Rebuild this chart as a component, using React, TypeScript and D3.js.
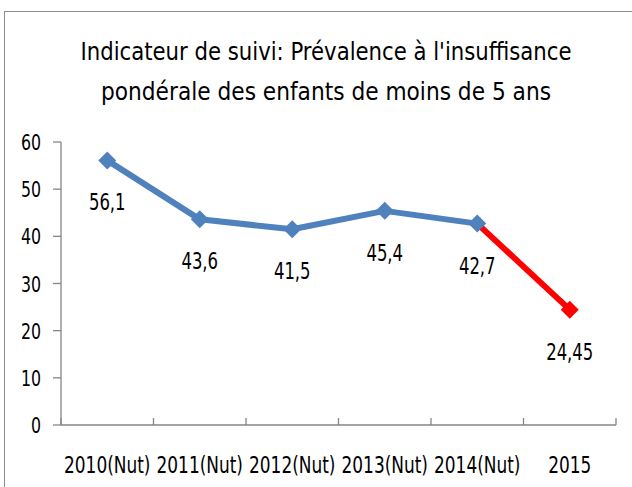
import React from "react";
import * as d3 from "d3";

const categories = ["2010(Nut)", "2011(Nut)", "2012(Nut)", "2013(Nut)", "2014(Nut)", "2015"];
const values = [56.1, 43.6, 41.5, 45.4, 42.7, 24.45];
const labels = ["56,1", "43,6", "41,5", "45,4", "42,7", "24,45"];
const yTicks = [0, 10, 20, 30, 40, 50, 60];
const titleLines = ["Indicateur de suivi: Prévalence à l'insuffisance", "pondérale des enfants de moins de 5 ans"];
const titleWidths = [491, 450];

const FONT = "'Liberation Sans Narrow', 'DejaVu Sans Condensed', 'Arial Narrow', sans-serif";

// approximate narrow-font advance widths (em)
const charW: Record<string, number> = { ",": 0.228, "(": 0.273, ")": 0.273, N: 0.592, u: 0.456, t: 0.228 };
const textW = (s: string, size: number) =>
  s.split("").reduce((a, ch) => a + (charW[ch] ?? 0.456), 0) * size;

export default function App() {
  const W = 632, H = 487;
  const x = d3.scaleBand<string>().domain(categories).range([61, 616]);
  const y = d3.scaleLinear().domain([0, 60]).range([425, 142]);
  const cx = (i: number) => (x(categories[i]) as number) + x.bandwidth() / 2;
  const line = d3.line<number>().x((_, i) => cx(i)).y((v) => y(v));
  const bluePts = values.slice(0, 5);
  const redIdx = [4, 5];
  const diamond = (px: number, py: number, r: number) =>
    `M${px},${py - r}L${px + r},${py}L${px},${py + r}L${px - r},${py}Z`;
  const axisColor = "#868686";
  const ticksX = d3.range(categories.length + 1).map((i) => 61 + i * x.bandwidth());

  return (
    <svg width={W} height={H} style={{ position: "absolute", left: 0, top: 0, background: "#fff" }}>
      <rect x={4.5} y={11.5} width={700} height={600} fill="#fff" stroke="#8c8c8c" strokeWidth={1} />
      {titleLines.map((t, i) => (
        <text
          key={i}
          x={326}
          y={60 + i * 40}
          textAnchor="middle"
          fontFamily={FONT}
          fontSize={25}
          fill="#000"
          textLength={titleWidths[i]}
          lengthAdjust="spacingAndGlyphs"
        >
          {t}
        </text>
      ))}
      {/* y axis */}
      <line x1={61} x2={61} y1={y(60)} y2={y(0)} stroke={axisColor} strokeWidth={1.3} />
      {yTicks.map((t) => (
        <g key={t}>
          <line x1={53} x2={61} y1={y(t)} y2={y(t)} stroke={axisColor} strokeWidth={1.3} />
          <text
            x={41}
            y={y(t) + 8}
            textAnchor="end"
            fontFamily={FONT}
            fontSize={22}
            fill="#000"
            textLength={textW(String(t), 22)}
            lengthAdjust="spacingAndGlyphs"
          >
            {t}
          </text>
        </g>
      ))}
      {/* x axis */}
      <line x1={61} x2={616} y1={y(0)} y2={y(0)} stroke={axisColor} strokeWidth={1.3} />
      {ticksX.map((tx, i) => (
        <line key={i} x1={tx} x2={tx} y1={y(0) - 7} y2={y(0)} stroke={axisColor} strokeWidth={1.3} />
      ))}
      {categories.map((c, i) => (
        <text
          key={c}
          transform={`translate(${cx(i)},473) scale(0.82,1)`}
          textAnchor="middle"
          fontFamily={FONT}
          fontSize={23}
          fill="#000"
        >
          {c}
        </text>
      ))}
      {/* red segment */}
      <path
        d={d3.line<number>().x((i) => cx(i)).y((i) => y(values[i]))(redIdx) as string}
        fill="none"
        stroke="#ff0000"
        strokeWidth={6}
      />
      {/* blue line */}
      <path d={line(bluePts) as string} fill="none" stroke="#4f81bd" strokeWidth={6} strokeLinejoin="round" />
      {bluePts.map((v, i) => (
        <path key={i} d={diamond(cx(i), y(v), 9)} fill="#4f81bd" />
      ))}
      <path d={diamond(cx(5), y(values[5]), 9)} fill="#ff0000" />
      {values.map((v, i) => (
        <text
          key={i}
          x={cx(i)}
          y={y(v) + 50}
          textAnchor="middle"
          fontFamily={FONT}
          fontSize={23}
          fill="#000"
          textLength={textW(labels[i], 23)}
          lengthAdjust="spacingAndGlyphs"
        >
          {labels[i]}
        </text>
      ))}
    </svg>
  );
}
